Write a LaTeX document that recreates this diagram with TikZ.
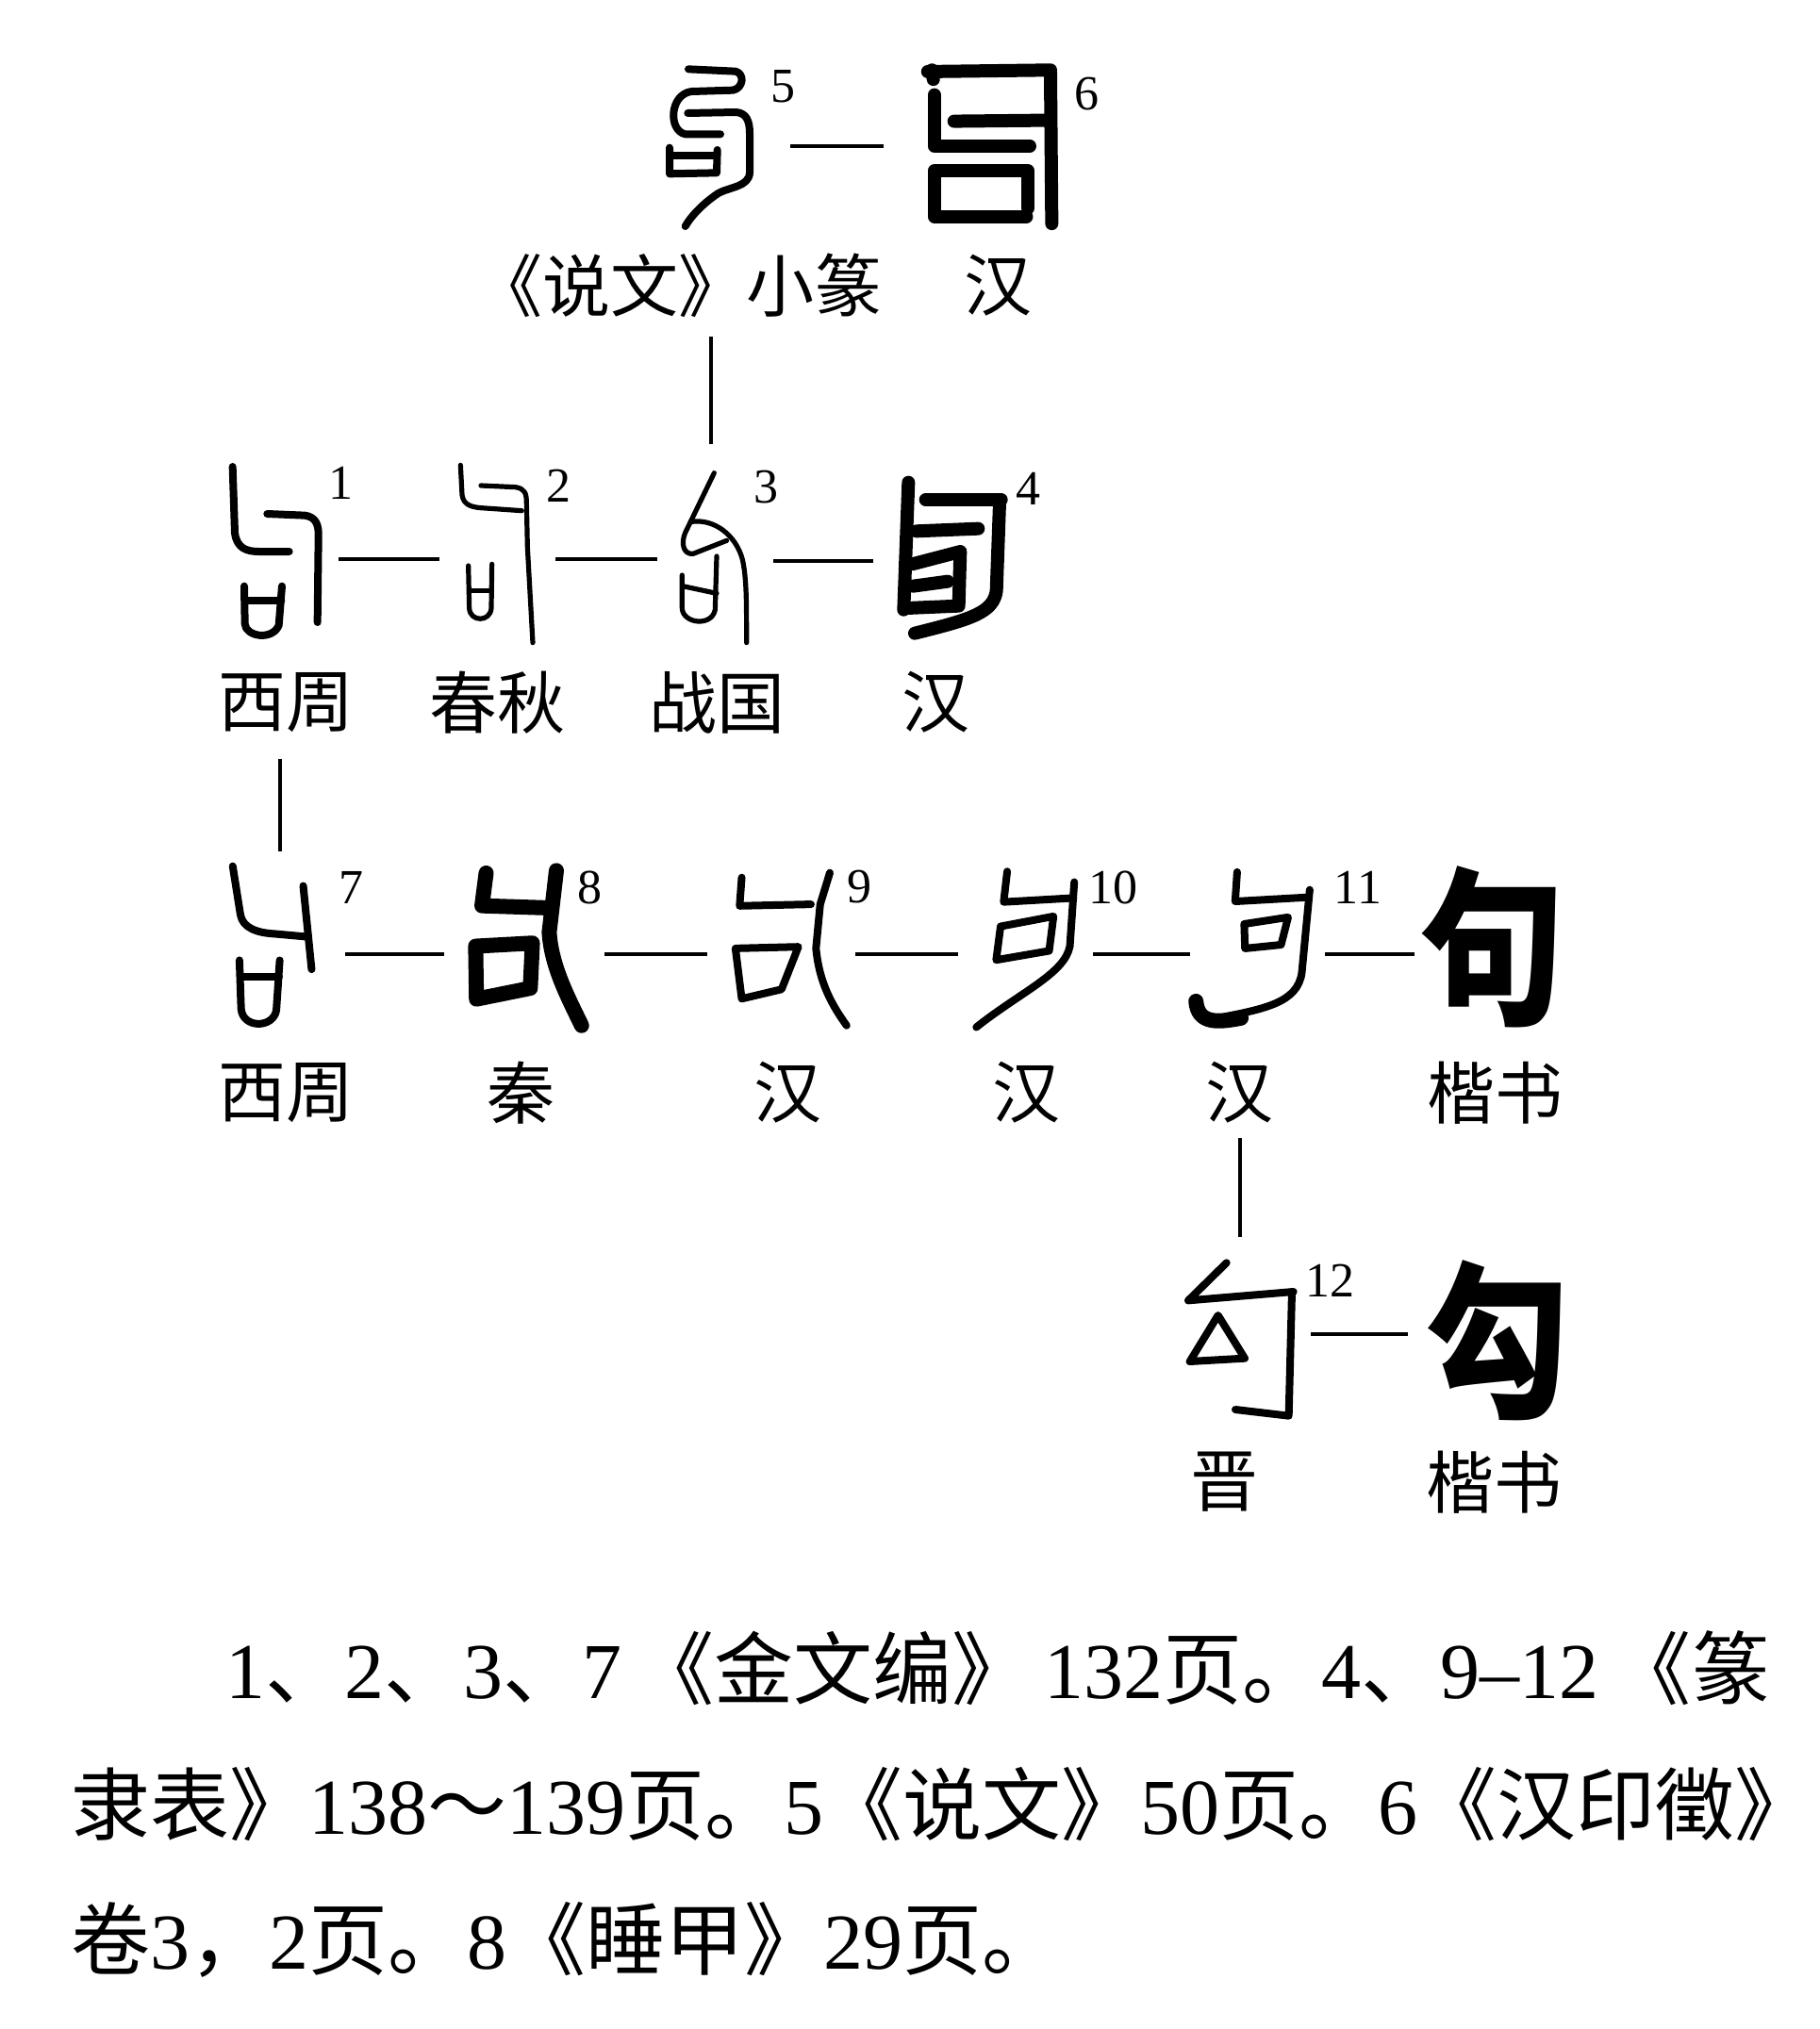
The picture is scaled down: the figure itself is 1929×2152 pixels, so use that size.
\documentclass[tikz,border=0pt]{standalone}
\usepackage{fontspec}
\setmainfont{Liberation Serif}
\newfontfamily\cjk{Noto Sans CJK SC}
\newcommand\zh[1]{{\cjk #1}}
\begin{document}
\begin{tikzpicture}[x=0.5pt,y=-0.5pt,
  conn/.style={line width=1.7pt},
  gthin/.style={line width=2.6pt,line cap=round,line join=round},
  gmed/.style={line width=4pt,line cap=round,line join=round},
  gheavy/.style={line width=7pt,line cap=round,line join=round},
  gxheavy/.style={line width=8pt,line cap=round,line join=round},
  lab/.style={inner sep=0pt,font=\cjk\fontsize{36}{36}\selectfont},
  supnum/.style={inner sep=0pt,font=\fontsize{26}{26}\selectfont},
  kai/.style={inner sep=0pt,font=\cjk\bfseries\fontsize{90}{90}\selectfont},
  bodytext/.style={inner sep=0pt,anchor=base west,font=\fontsize{42}{42}\selectfont}]
\useasboundingbox (0,0) rectangle (1929,2152);
\fill[white] (0,0) rectangle (1929,2152);

% ---------- top row ----------
% glyph 5
\begin{scope}[shift={(690,55)},scale=1/3]
\draw[gmed] (120,55) -- (270,62) .. controls (300,70) and (295,115) .. (262,122) -- (130,126) .. controls (60,135) and (55,250) .. (110,262) -- (222,262);
\draw[gmed] (118,195) -- (272,192) .. controls (305,195) and (315,220) .. (315,260) -- (315,385) .. controls (312,430) and (250,430) .. (215,450) .. controls (170,480) and (130,520) .. (110,555);
\draw[gmed] (60,305) -- (60,388) -- (210,385) -- (212,312);
\draw[gmed] (60,330) -- (210,330);
\end{scope}
\node[supnum] (n5) at (830,92) {5};
% glyph 6
\begin{scope}[shift={(647,41.4)},xscale=0.349,yscale=0.329]
\draw[gheavy] (965,105) -- (1338,100) -- (1342,595);
\draw[gheavy] (978,100) -- (982,130);
\draw[gheavy] (985,180) -- (985,345) -- (1275,345);
\draw[gheavy] (1045,265) -- (1320,262);
\draw[gheavy] (1270,545) -- (1270,425) -- (985,425) -- (985,572) -- (1265,572);
\end{scope}
\node[supnum] (n6) at (1152,100) {6};
\coordinate (a56) at (838,155);
\coordinate (b56) at (937,155);
\draw[conn] (a56) -- (b56);
\node[lab] (l5) at (719,303) {《说文》小篆};
\node[lab] (l6) at (1058,303) {汉};
\coordinate (v1a) at (754,357);
\coordinate (v1b) at (754,471);
\draw[conn] (v1a) -- (v1b);

% ---------- second row ----------
\begin{scope}[shift={(225,470)},scale=1/3]
% glyph 1
\draw[gmed] (65,75) -- (72,285) .. controls (78,335) and (110,345) .. (150,345) -- (245,345);
\draw[gmed] (175,225) -- (295,230) .. controls (330,235) and (340,260) .. (338,300) -- (335,570);
\draw[gmed] (102,455) -- (104,575) .. controls (106,615) and (190,630) .. (212,580) -- (222,455);
\draw[gmed] (104,500) -- (220,500);
% glyph 2
\draw[gthin] (790,70) -- (795,165) .. controls (800,200) and (830,205) .. (870,207) -- (985,215);
\draw[gthin] (855,135) -- (965,140) .. controls (995,145) and (1000,160) .. (1000,190) -- (1003,330) -- (1020,635);
\draw[gthin] (815,390) -- (818,525) .. controls (820,570) and (885,570) .. (888,525) -- (890,385);
\draw[gthin] (818,470) -- (888,470);
\end{scope}
\begin{scope}[shift={(680,470)},scale=1/3]
% glyph 3
\draw[gthin] (232,95) -- (140,285) .. controls (125,320) and (135,355) .. (165,352) -- (272,310);
\draw[gthin] (160,250) .. controls (230,240) and (300,290) .. (322,370) .. controls (335,430) and (335,500) .. (335,635);
\draw[gthin] (130,420) -- (130,525) .. controls (132,575) and (225,585) .. (235,530) -- (240,360);
\draw[gthin] (132,455) -- (240,478);
% glyph 4
\draw[gheavy] (850,125) -- (835,530);
\draw[gheavy] (905,180) -- (1145,180);
\draw[gheavy] (1140,190) -- (1130,470) .. controls (1120,540) and (1050,560) .. (870,605);
\draw[gheavy] (875,280) -- (1072,272);
\draw[gheavy] (862,385) -- (1015,345) -- (1010,518) -- (845,525);
\draw[gheavy] (865,455) -- (975,440);
\end{scope}
\node[supnum] (n1) at (361,512) {1};
\node[supnum] (n2) at (592,515) {2};
\node[supnum] (n3) at (812,517) {3};
\node[supnum] (n4) at (1090,518) {4};
\coordinate (a12) at (359,593); \coordinate (b12) at (466,593);
\coordinate (a23) at (589,593); \coordinate (b23) at (697,593);
\coordinate (a34) at (820,595); \coordinate (b34) at (926,595);
\draw[conn] (a12) -- (b12);
\draw[conn] (a23) -- (b23);
\draw[conn] (a34) -- (b34);
\node[lab] (l1) at (303,745) {西周};
\node[lab] (l2) at (527,745) {春秋};
\node[lab] (l3) at (760,745) {战国};
\node[lab] (l4) at (992,745) {汉};
\coordinate (v2a) at (297,805);
\coordinate (v2b) at (297,903);
\draw[conn] (v2a) -- (v2b);

% ---------- third row ----------
% glyph 7
\begin{scope}[shift={(227.2,897.7)},xscale=0.356,yscale=0.322]
\draw[gmed] (55,65) -- (78,225) .. controls (85,270) and (130,285) .. (180,288) -- (280,298);
\draw[gmed] (265,130) -- (290,405);
\draw[gmed] (75,375) -- (80,535) .. controls (85,600) and (175,600) .. (185,540) -- (195,375);
\draw[gmed] (78,430) -- (193,430);
\end{scope}
% glyph 8
\begin{scope}[shift={(210,893)},xscale=0.446,yscale=0.33]
\draw[gxheavy] (685,100) -- (675,205) -- (835,212);
\draw[gxheavy] (852,92) -- (835,290) .. controls (840,400) and (880,500) .. (912,590);
\draw[gxheavy] (660,335) -- (795,325) -- (790,470) -- (662,505) -- cycle;
\end{scope}
% glyph 9
\begin{scope}[shift={(205.8,892.3)},xscale=0.445,yscale=0.334]
\draw[gmed] (1305,115) -- (1300,205) -- (1470,200);
\draw[gmed] (1515,100) -- (1492,200) -- (1482,340) .. controls (1490,450) and (1520,520) .. (1555,585);
\draw[gmed] (1290,340) -- (1440,335) -- (1400,470) -- (1305,500) -- cycle;
\end{scope}
% glyph 10
\begin{scope}[shift={(988.5,896.7)},xscale=0.468,yscale=0.324]
\draw[gmed] (170,85) -- (162,185) -- (320,172);
\draw[gmed] (322,120) -- (312,330) .. controls (300,420) and (200,480) .. (100,595);
\draw[gmed] (155,265) -- (275,232) -- (265,345) -- (145,375) -- cycle;
\end{scope}
% glyph 11
\begin{scope}[shift={(999.9,895.1)},xscale=0.416,yscale=0.324]
\draw[gmed] (750,92) -- (745,188) -- (925,175);
\draw[gmed] (935,150) -- (915,420) .. controls (905,520) and (820,540) .. (700,570);
\draw[gxheavy] (645,515) .. controls (650,590) and (700,585) .. (760,570);
\draw[gmed] (768,262) -- (880,240) -- (862,330) -- (770,342) -- cycle;
\end{scope}
\node[kai] (k1) at (1583,1004) {\scalebox{0.85}[1]{句}};
\node[supnum] (n7) at (372,941) {7};
\node[supnum] (n8) at (625,941) {8};
\node[supnum] (n9) at (911,941) {9};
\node[supnum] (n10) at (1180,941) {10};
\node[supnum] (n11) at (1440,941) {11};
\coordinate (a78) at (366,1012); \coordinate (b78) at (471,1012);
\coordinate (a89) at (641,1012); \coordinate (b89) at (750,1012);
\coordinate (a910) at (907,1012); \coordinate (b910) at (1016,1012);
\coordinate (a1011) at (1159,1012); \coordinate (b1011) at (1262,1012);
\coordinate (a11k) at (1405,1012); \coordinate (b11k) at (1500,1012);
\draw[conn] (a78) -- (b78);
\draw[conn] (a89) -- (b89);
\draw[conn] (a910) -- (b910);
\draw[conn] (a1011) -- (b1011);
\draw[conn] (a11k) -- (b11k);
\node[lab] (l7) at (303,1159) {西周};
\node[lab] (l8) at (552,1159) {秦};
\node[lab] (l9) at (835,1159) {汉};
\node[lab] (l10) at (1088,1159) {汉};
\node[lab] (l11) at (1314,1159) {汉};
\node[lab] (lk1) at (1585,1159) {楷书};
\coordinate (v3a) at (1315,1207);
\coordinate (v3b) at (1315,1312);
\draw[conn] (v3a) -- (v3b);

% ---------- fourth row ----------
\begin{scope}[shift={(1230,1320)},scale=1/3]
\draw[gmed] (212,58) -- (90,178) -- (425,150);
\draw[gmed] (420,150) -- (410,545) -- (240,525);
\draw[gmed] (185,225) -- (95,372) -- (270,362) -- cycle;
\end{scope}
\node[supnum] (n12) at (1410,1358) {12};
\coordinate (a12k) at (1390,1415); \coordinate (b12k) at (1493,1415);
\draw[conn] (a12k) -- (b12k);
\node[kai] (k2) at (1588,1422) {\scalebox{0.85}[1]{勾}};
\node[lab] (l12) at (1298,1572) {晋};
\node[lab] (lk2) at (1584,1572) {楷书};

% ---------- notes ----------
\node[bodytext] (t1) at (239,1801) {1\zh{、}2\zh{、}3\zh{、}7\,\zh{《金文编》}\,132\zh{页。}4\zh{、}9–12\,\zh{《篆}};
\node[bodytext] (t2) at (75,1945) {\zh{隶表》}138\zh{～}139\zh{页。}5\zh{《说文》}50\zh{页。}6\zh{《汉印徵》}};
\node[bodytext] (t3) at (75,2088) {\zh{卷}3\zh{，}2\zh{页。}8\zh{《睡甲》}29\zh{页。}};
\end{tikzpicture}
\end{document}
